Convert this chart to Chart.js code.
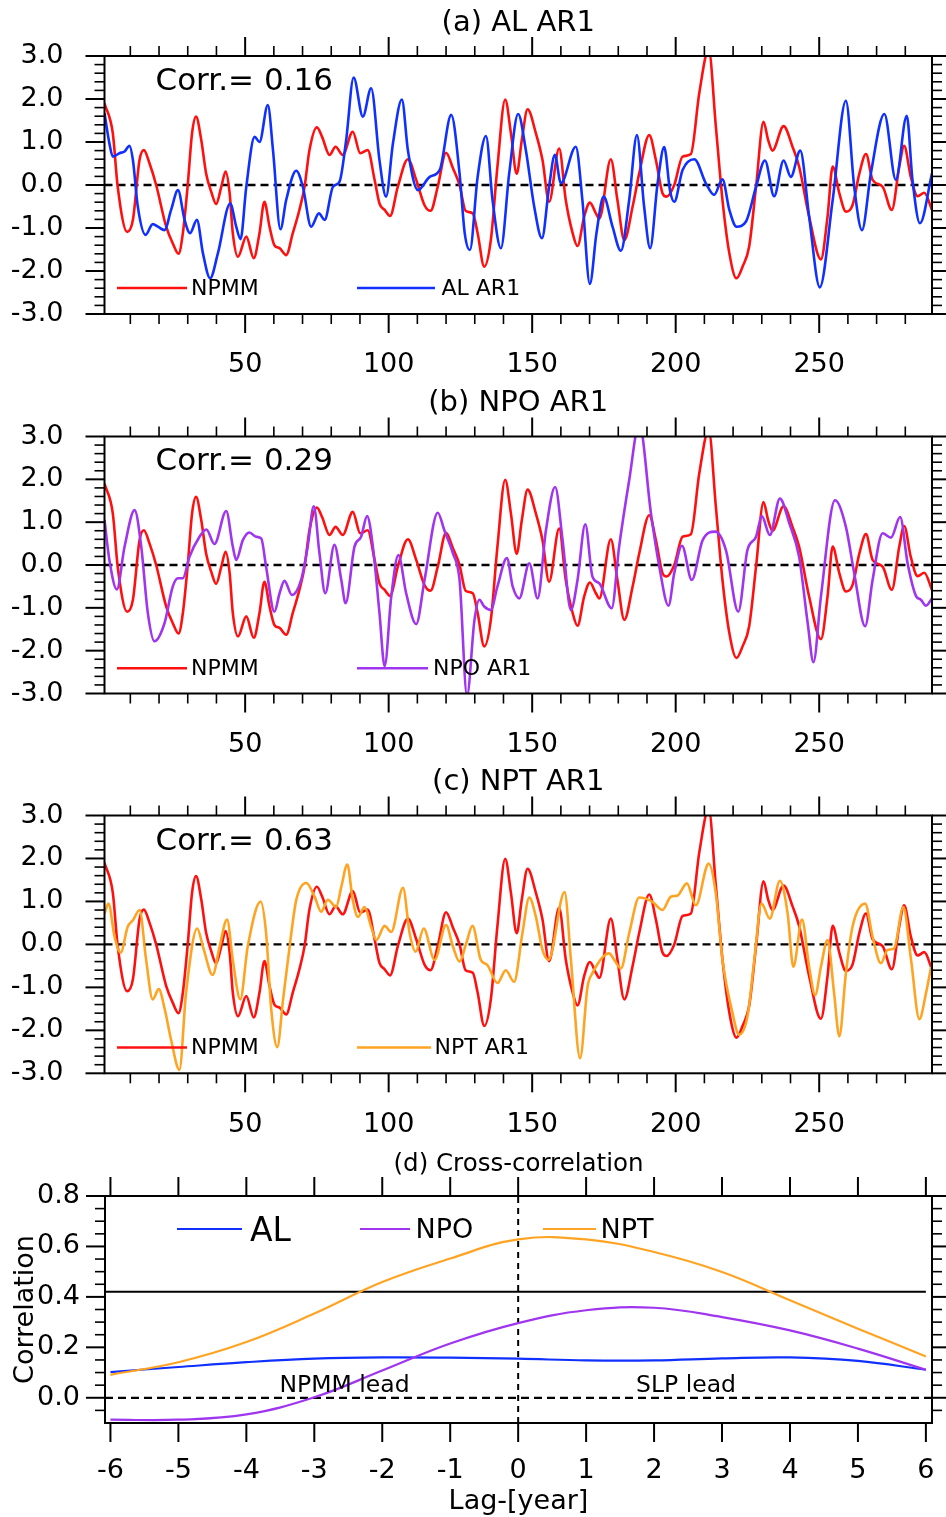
<!DOCTYPE html>
<html><head><meta charset="utf-8">
<script src="https://cdn.jsdelivr.net/npm/chart.js@4.4.1/dist/chart.umd.min.js"></script>
<style>
html,body{margin:0;padding:0;background:#fff;width:946px;height:1517px;overflow:hidden}
canvas{position:absolute;left:0}
</style></head><body>
<canvas id="ca" width="946" height="380" style="top:0px"></canvas>
<canvas id="cb" width="946" height="380" style="top:380px"></canvas>
<canvas id="cc" width="946" height="380" style="top:760px"></canvas>
<canvas id="cd" width="946" height="380" style="top:1140px"></canvas>
<script>
// ---------------- DATA ----------------
// [year, value] pairs
const npmm = [[1,1.9],[3.9,1.2],[5.6,-0.04],[8.9,-1.09],[10.9,-0.81],[13.2,0.58],[14.7,0.81],[16.7,0.5],[19,0],[22.5,-0.97],[24.8,-1.36],[26.8,-1.6],[28.3,-1.12],[30,0],[31.5,1.2],[32.9,1.59],[34.7,1.05],[36.4,0.27],[38.2,-0.16],[39.9,-0.44],[41.7,-0.04],[43.2,0.31],[44.6,-0.19],[45.7,-1.12],[47.5,-1.67],[50.4,-1.2],[53,-1.7],[55,-1.12],[56.7,-0.39],[58.5,-0.97],[60.2,-1.4],[62,-1.47],[64.3,-1.63],[66.6,-1.12],[68.9,-0.58],[70.7,-0.04],[72.4,0.81],[75,1.34],[76.8,1.12],[79.4,0.7],[81.5,0.89],[84,0.7],[87.5,1.24],[90.1,0.74],[92.7,0.81],[95.1,0.12],[96.8,-0.43],[98.6,-0.58],[100.5,-0.72],[103.2,-0.04],[106.7,0.6],[109.6,0.12],[112.5,-0.47],[114.6,-0.6],[117.1,-0.04],[120,0.75],[122.4,0.39],[124.7,0],[126.8,-0.6],[129.3,-0.66],[131,-1.12],[133.3,-1.9],[135.6,-1.28],[137.9,0.43],[140.6,1.99],[142.6,1.2],[144.6,0.26],[146.4,1.05],[148.4,1.76],[151.3,1.2],[153.6,0.58],[155.9,-0.39],[159.4,0.85],[161.7,-0.35],[164.1,-1.12],[165.8,-1.42],[168.1,-0.74],[170.1,-0.41],[172.2,-0.66],[173.4,-0.78],[177.4,0.6],[179.7,-0.35],[182.1,-1.28],[185,-0.5],[187.3,0.27],[190.8,1.16],[193.1,0.58],[195.4,-0.19],[196.8,-0.27],[199.5,0],[202.4,0.66],[205.3,0.72],[208.2,2.13],[211.5,3.15],[214,1.36],[216.3,-0.35],[218.7,-1.59],[221.2,-2.17],[223.3,-1.9],[225.6,-1.43],[228,-0.04],[230.6,1.47],[232.2,1.05],[233.7,0.8],[237.6,1.37],[240.7,0.89],[243,0.43],[246.5,-0.74],[250.6,-1.73],[252.9,-0.74],[254.7,0.43],[257,-0.19],[259.3,-0.62],[261.6,-0.47],[264,0.27],[266.3,0.72],[268.6,0.12],[272.1,-0.04],[275.3,-0.58],[277.9,0.43],[279.6,0.91],[281.9,0.19],[284.3,-0.26],[286.6,-0.18],[289.3,-0.58]];

const alAR1 = [[1,1.67],[2.7,0.97],[3.9,0.66],[6.2,0.74],[8,0.78],[9.7,0.91],[10.9,0.58],[12.6,-0.5],[15.3,-1.16],[17.8,-0.91],[19.6,-0.97],[21.9,-1.05],[24.2,-0.58],[26.6,-0.12],[28.9,-0.81],[30.8,-1.12],[33.2,-0.81],[35.3,-1.59],[37.8,-2.17],[40.5,-1.59],[44.8,-0.43],[46.9,-0.97],[48.4,-1.26],[50.4,-0.04],[53.3,1.12],[55,1.0],[57.9,1.86],[59.7,0.81],[62.3,-1.03],[64.3,-0.35],[67.8,0.33],[70.1,-0.04],[73,-0.97],[75.7,-0.66],[77.7,-0.81],[80.6,-0.04],[82.9,0.08],[85.2,1.05],[87.8,2.5],[91,1.59],[93.9,2.25],[96.8,0.58],[99.1,-0.27],[101.5,0.97],[104.6,1.99],[106.7,0.81],[110.2,-0.12],[114.3,0.19],[117.8,0.35],[121.8,1.63],[124.7,0.27],[126.5,-1.12],[128.3,-1.51],[131,0.19],[133.9,1.14],[136.2,-0.35],[139.1,-1.47],[142,0.27],[145.1,1.65],[147.8,0.81],[150.7,-0.5],[153.4,-1.24],[155.9,-0.04],[157.9,0.7],[160,0.04],[165.2,0.89],[167.5,-0.35],[170.1,-2.3],[172.4,-1.12],[174.9,-0.27],[178,-0.97],[180.9,-1.53],[183.8,-0.35],[186.5,1.16],[189,-0.5],[191.1,-1.47],[193.7,0.04],[196,0.88],[198,-0.12],[199.5,-0.39],[202.4,0.35],[206.5,0.6],[210.5,0.04],[213.4,-0.23],[216.3,0.13],[218.7,-0.58],[221.2,-0.97],[224.5,-0.85],[228,-0.04],[231.1,0.57],[234.3,-0.26],[237.6,0.57],[240.1,0.19],[243.4,0.8],[246.5,-0.74],[250.2,-2.38],[254.7,-0.35],[259.3,1.96],[262.2,-0.04],[264.9,-1.05],[268,0.27],[272.7,1.65],[276.7,0.12],[280.5,1.61],[282.5,0.12],[285.1,-0.89],[289.3,0.27]];

const npoAR1 = [[1,1.05],[2.7,0.12],[5.3,-0.57],[8,0.43],[11.5,1.28],[13.8,0.43],[16.1,-1.12],[18.4,-1.78],[21.9,-1.36],[24.8,-0.5],[26.6,-0.31],[28.3,-0.31],[30.6,0.19],[34.1,0.66],[36.5,0.83],[39.3,0.49],[43.4,1.26],[45.7,0.43],[46.9,0.12],[49.2,0.58],[51.5,0.76],[53.8,0.66],[55.6,0.62],[57.3,-0.04],[60.2,-1.09],[62,-0.66],[63.7,-0.37],[66.3,-0.7],[69.5,-0.35],[71.8,0.43],[73.9,1.37],[75.9,0.27],[77.9,-0.66],[81.1,0.47],[83.5,-0.35],[85,-0.89],[88.1,0.43],[90.4,0.66],[92.5,1.14],[94.5,0.43],[96.8,-1.12],[98.6,-2.36],[100.9,-0.74],[103.4,0.23],[106.1,-0.66],[109.6,-1.38],[112.5,-0.35],[117.1,1.22],[119.4,0.81],[122.4,0.27],[124.7,-0.35],[127.3,-3.05],[129.9,-1.28],[131.6,-0.81],[133.3,-0.97],[135.6,-1.05],[137.9,-0.5],[141.2,0.16],[143.2,-0.5],[145.5,-0.78],[149,0.04],[151.9,-0.78],[154.8,0.81],[158,1.82],[160.6,0.58],[163.5,-1.05],[165.8,-0.35],[168.5,0.95],[171,-0.27],[173.4,-0.43],[177.7,-1.01],[180.3,0.43],[183.8,1.98],[187.3,3.3],[191.4,1.2],[194.3,-0.04],[197.5,-0.95],[199.5,-0.19],[202.2,0.45],[205.6,-0.35],[209.4,0.58],[213.8,0.78],[217.5,0.35],[221.8,-1.09],[225,0.35],[228,0.66],[230,1.14],[232.8,0.7],[236.3,1.55],[239.6,0.97],[243,0.19],[246,-1.36],[248,-2.27],[250.6,-0.74],[255.5,1.51],[259.3,0.89],[262.2,-0.19],[266,-1.43],[268.6,-0.35],[272.1,0.74],[275,0.64],[278.2,1.12],[280.8,0.04],[283.7,-0.72],[285.4,-0.81],[287.2,-0.95],[289.3,-0.78]];

const nptAR1 = [[1,0.72],[2.4,0.95],[4.5,0.18],[6.6,-0.19],[9.1,0.41],[10.9,0.56],[13.2,0.8],[15.5,-0.36],[17.8,-1.28],[19.9,-1.04],[21.9,-1.48],[24.2,-2.22],[27.1,-2.92],[29.4,-1.14],[33.3,0.37],[35.3,-0.05],[38.7,-0.71],[41.1,-0.05],[43.7,0.58],[45.7,-0.36],[48.3,-1.28],[50.9,-0.05],[55.4,1.0],[57.3,0.26],[59.1,-1.52],[61.2,-2.39],[63.2,-1.29],[65.5,-0.05],[67.8,1.03],[71.3,1.43],[74.2,1.11],[76.5,0.76],[78.8,1.04],[81.7,0.87],[83.5,1.34],[85.6,1.86],[87.5,1.03],[89.3,0.64],[91.6,0.87],[93.9,0.41],[95.7,0.1],[98.6,0.43],[100.9,0.29],[105,1.32],[107.3,0.26],[109.4,-0.17],[112.2,0.37],[116,-0.36],[120,0.45],[122.4,-0.05],[124.7,-0.4],[127,0.02],[129.2,0.43],[132.1,-0.36],[134.4,-0.48],[137.9,-0.9],[140.8,-0.6],[143.7,-0.87],[146.6,0.26],[149,1.09],[151.3,0.64],[153.6,-0.13],[155.7,-0.36],[161.3,1.22],[163.5,-0.36],[166.7,-2.65],[169.3,-0.98],[171,-0.67],[176.8,-0.21],[178.6,-0.36],[180.9,-0.56],[183.8,0.26],[187.3,1.09],[191.9,0.99],[195.4,0.8],[198.3,1.11],[200.7,1.14],[203.9,1.42],[207,0.91],[211.5,1.88],[214,1.18],[216.3,-0.36],[219.8,-1.6],[222.1,-2.1],[225,-1.68],[227.4,-0.36],[229.9,0.95],[232.8,0.6],[236.3,1.48],[239,0.72],[241,-0.52],[244,0.58],[246.5,-0.52],[248.6,-1.18],[250.6,-0.52],[252.9,0.1],[255.2,-1.14],[257,-2.14],[259.3,-0.67],[261.6,0.41],[266,0.95],[268.6,0.18],[271.5,-0.44],[273.8,-0.13],[276.1,-0.09],[279.3,0.87],[282,-0.36],[284.9,-1.74],[287.2,-1.14],[289,-0.52]];

// cross-correlation, [lag, r]
const ccAL  = [[-6,0.102],[-5,0.122],[-4,0.141],[-3,0.155],[-2,0.16],[-1,0.159],[0,0.155],[1,0.148],[2,0.148],[3,0.156],[4,0.16],[5,0.146],[6,0.111]];
const ccNPO = [[-6,-0.087],[-5,-0.087],[-4,-0.066],[-3,0.002],[-2,0.108],[-1,0.215],[0,0.296],[1,0.347],[2,0.357],[3,0.32],[4,0.267],[5,0.195],[6,0.111]];
const ccNPT = [[-6,0.091],[-5,0.141],[-4,0.221],[-3,0.334],[-2,0.459],[-1,0.552],[0,0.628],[1,0.628],[2,0.578],[3,0.499],[4,0.387],[5,0.274],[6,0.164]];
const sigLevel = 0.42;

// tick labels
const yearTicks = [50,100,150,200,250];
const anomTicks = [-3,-2,-1,0,1,2,3];
const lagTicks = [-6,-5,-4,-3,-2,-1,0,1,2,3,4,5,6];
const corrTicks = [0,0.2,0.4,0.6,0.8];

// texts
const titles = ['(a) AL AR1','(b) NPO AR1','(c) NPT AR1','(d) Cross-correlation'];
const corrTexts = ['Corr.= 0.16','Corr.= 0.29','Corr.= 0.63'];
const seriesNames = ['AL AR1','NPO AR1','NPT AR1'];
const ccNames = ['AL','NPO','NPT'];

// ---------------- STYLE ----------------
const FONT = "'DejaVu Sans', 'Liberation Sans', sans-serif";
const RED = '#ff1010', BLUE = '#1030ff', PURPLE = '#a035f0', ORANGE = '#ffa322';
Chart.defaults.font.family = FONT;
Chart.defaults.color = '#000';

const toXY = p => p.map(([x, y]) => ({x, y}));
function range(a, b, s, skip) { const r = []; for (let v = a; v <= b + 1e-9; v += s) { const q = Math.round(v * 1000) / 1000; if (!skip(q)) r.push(q); } return r; }
const yearMinor = range(10, 280, 10, v => v % 50 === 0);
const anomMinor = range(-2.8, 2.8, 0.2, v => Math.abs(v - Math.round(v)) < 1e-6);
const corrMinor = range(-0.05, 0.75, 0.05, v => Math.abs(v * 5 - Math.round(v * 5)) < 1e-6);

const noPad = s => { s.paddingLeft = 0; s.paddingRight = 0; s.paddingTop = 0; s.paddingBottom = 0; };

const decor = {
  id: 'decor',
  afterDraw(chart, args, o) {
    const {ctx, chartArea: a, scales: {x, y}} = chart;
    ctx.save();
    ctx.strokeStyle = '#000';
    const seg = (x0, y0, x1, y1) => { ctx.beginPath(); ctx.moveTo(x0, y0); ctx.lineTo(x1, y1); ctx.stroke(); };
    const xt = (vals, len, w) => { ctx.lineWidth = w; vals.forEach(v => { const p = x.getPixelForValue(v); seg(p, a.bottom, p, a.bottom + len); seg(p, a.top, p, a.top - len); }); };
    const yt = (vals, len, w) => { ctx.lineWidth = w; vals.forEach(v => { const p = y.getPixelForValue(v); seg(a.left, p, a.left - len, p); seg(a.right, p, a.right + len, p); }); };
    xt(o.xMajor, 19, 2); xt(o.xMinor, 10, 1.6);
    yt(o.yMajor, 19, 2); yt(o.yMinor, 10, 1.6);
    ctx.lineWidth = 2;
    ctx.strokeRect(a.left, a.top, a.right - a.left, a.bottom - a.top);
    (o.legend || []).forEach(it => {
      ctx.strokeStyle = chart.data.datasets[it.ds].borderColor;
      ctx.lineWidth = it.lw;
      seg(it.x0, it.y, it.x1, it.y);
      ctx.fillStyle = '#000';
      ctx.font = it.size + 'px ' + FONT;
      ctx.textBaseline = 'middle';
      ctx.textAlign = 'left';
      ctx.fillText(it.text, it.tx, it.ty);
    });
    (o.texts || []).forEach(t => {
      ctx.fillStyle = '#000';
      ctx.font = t.size + 'px ' + FONT;
      ctx.textBaseline = t.base;
      ctx.textAlign = 'left';
      ctx.fillText(t.text, t.x, t.y);
    });
    ctx.restore();
  }
};

const tickFont = {family: FONT, size: 27};

function seriesPanel(id, i, series, color, geo) {
  const W = 2.6;
  return new Chart(document.getElementById(id), {
    type: 'line',
    data: { datasets: [
      { label: seriesNames[i], data: toXY(series), borderColor: color, borderWidth: W, pointRadius: 0, cubicInterpolationMode: 'monotone', order: 0 },
      { label: 'NPMM', data: toXY(npmm), borderColor: RED, borderWidth: W, pointRadius: 0, cubicInterpolationMode: 'monotone', order: 1 },
      { label: 'zero', data: toXY([[1, 0], [289.3, 0]]), borderColor: '#000', borderWidth: 2.4, borderDash: [8, 5], pointRadius: 0, order: 2 }
    ]},
    options: {
      responsive: false, animation: false, devicePixelRatio: 1,
      layout: { padding: { left: 0, right: 14, top: 0, bottom: 0 } },
      plugins: {
        legend: { display: false }, tooltip: { enabled: false },
        title: { display: true, text: titles[i], fullSize: false, color: '#000',
                 font: { family: FONT, size: 29, weight: 'normal', lineHeight: 1.2 },
                 padding: { top: geo.tpt, bottom: geo.top - geo.tpt - 34.8 } },
        decor: {
          xMajor: yearTicks, xMinor: yearMinor, yMajor: anomTicks, yMinor: anomMinor,
          legend: [
            { ds: 1, x0: 117, x1: 187, y: geo.ly, lw: W, text: 'NPMM', tx: 191, ty: geo.ly + 1, size: 22 },
            { ds: 0, x0: 357, x1: geo.l2, y: geo.ly, lw: W, text: seriesNames[i], tx: geo.t2, ty: geo.ly + 1, size: 22 }
          ],
          texts: [ { text: corrTexts[i], x: 155.5, y: geo.cy, size: 31, base: 'alphabetic' } ]
        }
      },
      scales: {
        x: { type: 'linear', min: 1, max: 289.3,
             grid: { display: false, drawTicks: false }, border: { display: false },
             afterBuildTicks: s => { s.ticks = yearTicks.map(v => ({value: v})); },
             afterFit: s => { s.height = 380 - geo.bottom; noPad(s); },
             ticks: { padding: 365 - geo.bottom - 16.2, font: tickFont, color: '#000', maxRotation: 0, autoSkip: false, callback: v => String(v) } },
        y: { type: 'linear', min: -3, max: 3,
             grid: { display: false, drawTicks: false }, border: { display: false },
             afterBuildTicks: s => { s.ticks = anomTicks.map(v => ({value: v})); },
             afterFit: s => { s.width = 104.5; noPad(s); },
             ticks: { padding: 41, font: tickFont, color: '#000', autoSkip: false, callback: v => v.toFixed(1) } }
      }
    },
    plugins: [decor]
  });
}

seriesPanel('ca', 0, alAR1, BLUE,   { top: 56,   bottom: 314,   tpt: 5.6, ly: 288,   l2: 435, t2: 441.5, cy: 90 });
seriesPanel('cb', 1, npoAR1, PURPLE, { top: 56.5, bottom: 313.5, tpt: 5.6, ly: 288.3, l2: 428, t2: 433,   cy: 90 });
seriesPanel('cc', 2, nptAR1, ORANGE, { top: 55.5, bottom: 313.3, tpt: 4.6, ly: 287.5, l2: 431, t2: 434.5, cy: 89.5 });

// ---------------- panel (d) ----------------
const ccLine = (label, data, color, order) => ({ label, data: toXY(data), borderColor: color, borderWidth: 2.2, pointRadius: 0, tension: 0.4, order });
new Chart(document.getElementById('cd'), {
  type: 'line',
  data: { datasets: [
    ccLine('NPT', ccNPT, ORANGE, 0),
    ccLine('NPO', ccNPO, PURPLE, 1),
    ccLine('AL', ccAL, BLUE, 2),
    { label: 'sig', data: toXY([[-6.08, sigLevel], [6, sigLevel]]), borderColor: '#000', borderWidth: 2, pointRadius: 0, order: 3 },
    { label: 'zero', data: toXY([[-6.08, 0], [6.09, 0]]), borderColor: '#000', borderWidth: 2.2, borderDash: [8, 5], pointRadius: 0, order: 4 },
    { label: 'lag0', data: toXY([[0, -0.1], [0, 0.8]]), borderColor: '#000', borderWidth: 2, borderDash: [6, 5], pointRadius: 0, order: 5 }
  ]},
  options: {
    responsive: false, animation: false, devicePixelRatio: 1,
    layout: { padding: { left: 0, right: 14, top: 0, bottom: 1.8 } },
    plugins: {
      legend: { display: false }, tooltip: { enabled: false },
      title: { display: true, text: titles[3], fullSize: false, color: '#000',
               font: { family: FONT, size: 24.5, weight: 'normal', lineHeight: 1.2 },
               padding: { top: 9.5, bottom: 56 - 9.5 - 29.4 } },
      decor: {
        xMajor: lagTicks, xMinor: [], yMajor: corrTicks, yMinor: corrMinor,
        legend: [
          { ds: 2, x0: 177, x1: 242, y: 89, lw: 2.2, text: ccNames[0], tx: 250, ty: 92, size: 33 },
          { ds: 1, x0: 360, x1: 410, y: 89, lw: 2.2, text: ccNames[1], tx: 415.5, ty: 91, size: 27 },
          { ds: 0, x0: 543, x1: 596, y: 89, lw: 2.2, text: ccNames[2], tx: 600.5, ty: 91, size: 27 }
        ],
        texts: [
          { text: 'NPMM lead', x: 279.5, y: 246, size: 23.5, base: 'middle' },
          { text: 'SLP lead', x: 636, y: 246, size: 23.5, base: 'middle' }
        ]
      }
    },
    scales: {
      x: { type: 'linear', min: -6.08, max: 6.09,
           grid: { display: false, drawTicks: false }, border: { display: false },
           title: { display: true, text: 'Lag-[year]', color: '#000', font: { family: FONT, size: 27, lineHeight: 1.2 }, padding: 0 },
           afterBuildTicks: s => { s.ticks = lagTicks.map(v => ({value: v})); },
           afterFit: s => { s.height = 95.2; noPad(s); },
           ticks: { padding: 31.8, font: tickFont, color: '#000', maxRotation: 0, autoSkip: false, callback: v => String(v) } },
      y: { type: 'linear', min: -0.1, max: 0.8,
           grid: { display: false, drawTicks: false }, border: { display: false },
           title: { display: true, text: 'Correlation', color: '#000', font: { family: FONT, size: 27, lineHeight: 1.2 }, padding: { top: 9.8, bottom: 0 } },
           afterBuildTicks: s => { s.ticks = corrTicks.map(v => ({value: v})); },
           afterFit: s => { s.width = 105; noPad(s); },
           ticks: { padding: 25, font: tickFont, color: '#000', autoSkip: false, callback: v => v.toFixed(1) } }
    }
  },
  plugins: [decor]
});
</script>
</body></html>
